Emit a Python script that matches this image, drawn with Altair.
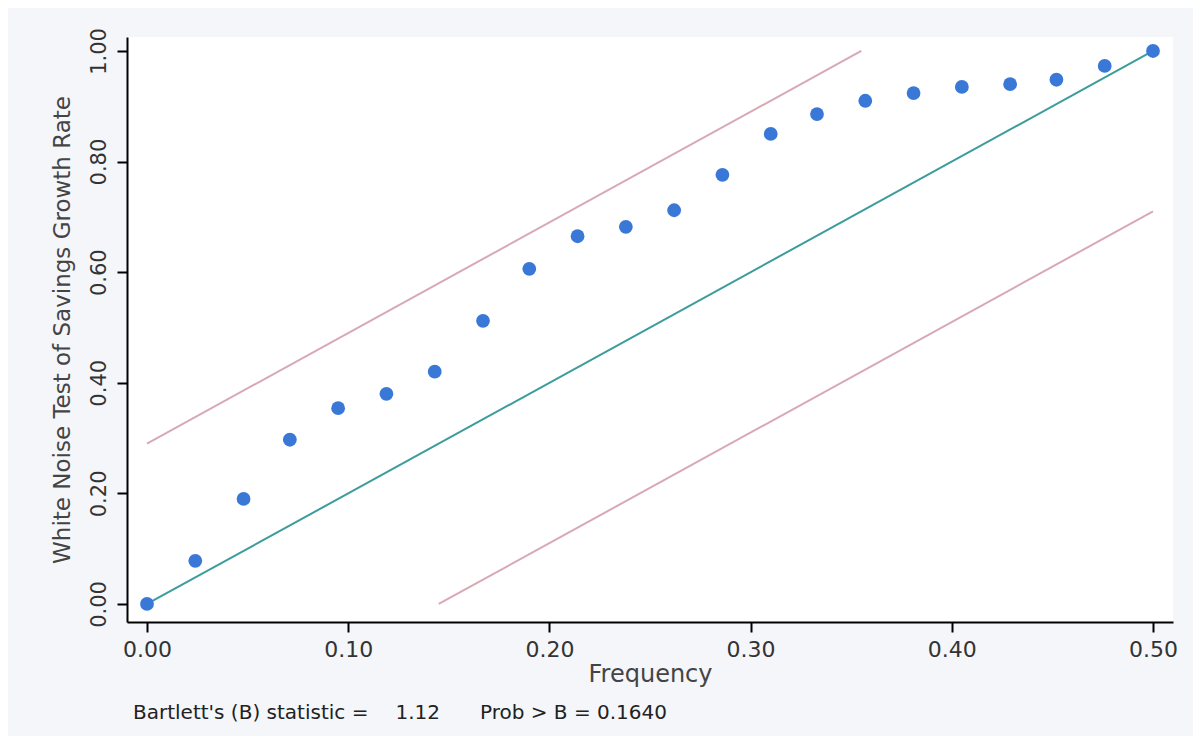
import altair as alt
import pandas as pd

# Cumulative periodogram points
freq = [0.000, 0.024, 0.048, 0.071, 0.095, 0.119, 0.143, 0.167, 0.190, 0.214, 0.238,
        0.262, 0.286, 0.310, 0.333, 0.357, 0.381, 0.405, 0.429, 0.452, 0.476, 0.500]
cum = [0.000, 0.078, 0.190, 0.297, 0.354, 0.380, 0.420, 0.512, 0.606, 0.665, 0.682,
       0.712, 0.776, 0.850, 0.886, 0.910, 0.924, 0.935, 0.940, 0.948, 0.973, 1.000]

# Reference lines
diag_x = [0.0, 0.5]
diag_y = [0.0, 1.0]
upper_x = [0.0, 0.355]
upper_y = [0.29, 1.0]
lower_x = [0.145, 0.5]
lower_y = [0.0, 0.71]

x_ticks = [0.0, 0.1, 0.2, 0.3, 0.4, 0.5]
y_ticks = [0.0, 0.2, 0.4, 0.6, 0.8, 1.0]

stat_label = "Bartlett's (B) statistic ="
stat_value = "1.12"
prob_label = "Prob > B = 0.1640"

pts = pd.DataFrame({"f": freq, "c": cum})
diag = pd.DataFrame({"f": diag_x, "c": diag_y})
upper = pd.DataFrame({"f": upper_x, "c": upper_y})
lower = pd.DataFrame({"f": lower_x, "c": lower_y})

FONT = "DejaVu Sans"

xscale = alt.Scale(domain=[-0.00994, 0.50994], nice=False, zero=False)
yscale = alt.Scale(domain=[-0.0326, 1.0253], nice=False, zero=False)

xenc = alt.X("f:Q", scale=xscale, axis=alt.Axis(
    values=x_ticks, format=".2f", title="Frequency", grid=False,
    domainColor="black", domainWidth=2, tickColor="black", tickWidth=2, tickSize=10,
    labelFont=FONT, labelFontSize=22, labelColor="#333333", labelPadding=7,
    titleFont=FONT, titleFontSize=24, titleFontWeight="normal", titleColor="#444444",
    titlePadding=2, labelFlush=False))
yenc = alt.Y("c:Q", scale=yscale, axis=alt.Axis(
    values=y_ticks, format=".2f", title="White Noise Test of Savings Growth Rate", grid=False,
    domainColor="black", domainWidth=2, tickColor="black", tickWidth=2, tickSize=10,
    labelFont=FONT, labelFontSize=21, labelColor="#333333", labelAngle=-90,
    labelAlign="center", labelBaseline="bottom", labelPadding=8,
    titleFont=FONT, titleFontSize=23, titleFontWeight="normal", titleColor="#444444",
    titlePadding=14, labelFlush=False))

def line_layer(df, color, width):
    return alt.Chart(df).mark_line(color=color, strokeWidth=width).encode(
        x=alt.X("f:Q", scale=xscale), y=alt.Y("c:Q", scale=yscale))

base_axes = alt.Chart(diag).mark_line(color="#3c9c9c", strokeWidth=2).encode(x=xenc, y=yenc)
up = line_layer(upper, "#d8a9b5", 2)
lo = line_layer(lower, "#d8a9b5", 2)
points = alt.Chart(pts).mark_circle(size=190, color="#3a78d8", opacity=1).encode(
    x=alt.X("f:Q", scale=xscale), y=alt.Y("c:Q", scale=yscale))

t1 = alt.Chart(pd.DataFrame({"t": [stat_label]})).mark_text(
    font=FONT, fontSize=20, color="#222222", align="left", baseline="alphabetic").encode(
    text="t:N", x=alt.value(6), y=alt.value(682))
t2 = alt.Chart(pd.DataFrame({"t": [stat_value]})).mark_text(
    font=FONT, fontSize=20, color="#222222", align="right", baseline="alphabetic").encode(
    text="t:N", x=alt.value(313), y=alt.value(682))
t3 = alt.Chart(pd.DataFrame({"t": [prob_label]})).mark_text(
    font=FONT, fontSize=20, color="#222222", align="right", baseline="alphabetic").encode(
    text="t:N", x=alt.value(540), y=alt.value(682))

chart = alt.layer(base_axes, up, lo, points, t1, t2, t3).properties(
    width=1046, height=585,
    autosize=alt.AutoSizeParams(type="none"),
    padding={"left": 119, "top": 29, "right": 20, "bottom": 114},
    background="#f4f6f9",
).configure_view(stroke=None, fill="white")

chart.save("out.html", embed_options={"renderer": "svg", "actions": False})
